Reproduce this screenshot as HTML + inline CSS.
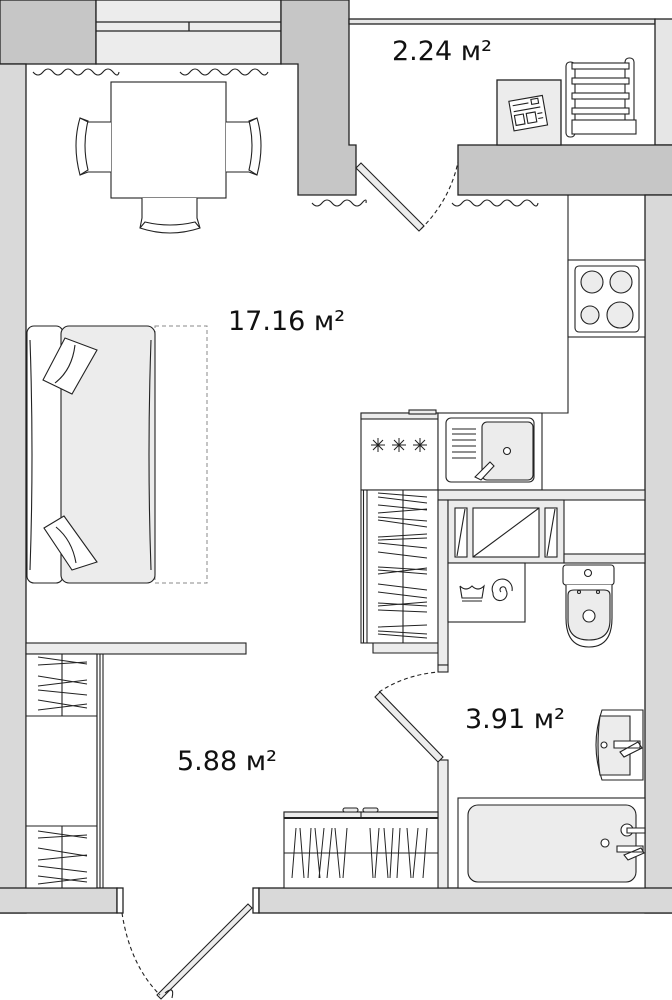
<!DOCTYPE html>
<html><head><meta charset="utf-8"><style>
html,body{margin:0;padding:0;background:#fff;}
svg{display:block}
text{font-family:"DejaVu Sans","Liberation Sans",sans-serif;fill:#111}
</style></head><body>
<svg width="672" height="1000" viewBox="0 0 672 1000" xmlns="http://www.w3.org/2000/svg">
<g stroke="#222" stroke-width="1.3">
<rect x="0" y="0" width="96" height="64" fill="#c6c6c6"/>
<rect x="96" y="0" width="185" height="64" fill="#ececec"/>
<line x1="96" y1="22" x2="281" y2="22"/><line x1="96" y1="31" x2="281" y2="31"/><line x1="189" y1="22" x2="189" y2="31"/>
<path d="M281,0 H349 V145 H356 V195 H298 V64 H281 Z" fill="#c6c6c6"/>
<rect x="349" y="19" width="306" height="5" fill="#e6e6e6"/>
<rect x="655" y="19" width="20" height="126" fill="#e6e6e6"/>
<rect x="458" y="145" width="216" height="50" fill="#c6c6c6"/>
<rect x="497" y="80" width="64" height="65" fill="#ececec"/>
<rect x="-2" y="64" width="28" height="849" fill="#d9d9d9"/>
<rect x="645" y="195" width="30" height="718" fill="#d9d9d9"/>
<rect x="-2" y="888" width="119" height="25" fill="#d9d9d9"/>
<rect x="117" y="888" width="6" height="25" fill="#fff"/>
<rect x="253" y="888" width="6" height="25" fill="#fff"/>
<rect x="259" y="888" width="416" height="25" fill="#d9d9d9"/>
</g>
<g fill="none" stroke="#222" stroke-width="1.1">
<path d="M33,72 q5,6 10,0 t10,0 t10,0 t10,0 t10,0 t10,0 t10,0 t10,0 t6,0"/>
<path d="M180,72 q5,6 10,0 t10,0 t10,0 t10,0 t10,0 t10,0 t10,0 t10,0 t8,0"/>
<path d="M312,203 q5,6 10,0 t10,0 t10,0 t10,0 t10,0 t4,0"/>
<path d="M452,203 q5,6 10,0 t10,0 t10,0 t10,0 t10,0 t10,0 t10,0 t10,0 t6,0"/>
</g>
<g stroke="#222" stroke-width="1.1">
<polygon points="356,168 361,163 424,226 419,231" fill="#ececec"/>
<path d="M421,229 Q450,200 458,162" fill="none" stroke-dasharray="4,3"/>
<rect x="111" y="82" width="115" height="116" fill="#fff"/>
<g fill="#fff">
<path d="M111,122 H88 L80,118 Q72,145 80,175 L88,172 H111"/>
<path d="M80,118 L88,121 Q82,145 88,170 L80,175" fill="none"/>
<path d="M226,122 H249 L257,118 Q265,145 257,175 L249,172 H226"/>
<path d="M257,118 L249,121 Q255,145 249,170 L257,175" fill="none"/>
<path d="M142,198 V218 L140,228 Q170,238 200,228 L197,218 V198"/>
<path d="M140,228 L145,222 Q170,228 195,222 L200,228" fill="none"/>
</g>
<g fill="#fff">
<rect x="566" y="62" width="9" height="75" rx="4"/>
<rect x="625" y="58" width="9" height="75" rx="4"/>
<rect x="572" y="63" width="57" height="6"/>
<rect x="572" y="78" width="57" height="6"/>
<rect x="572" y="93" width="57" height="6"/>
<rect x="572" y="108" width="57" height="6"/>
<rect x="572" y="120" width="64" height="14"/>
</g>
<g fill="#fff" transform="rotate(-10 529 112)">
<rect x="511" y="98" width="34" height="30"/>
<line x1="514" y1="103" x2="530" y2="103"/><rect x="533" y="100" width="7" height="5"/>
<line x1="514" y1="109" x2="541" y2="109"/><rect x="514" y="113" width="9" height="10"/><rect x="526" y="113" width="9" height="10"/>
<line x1="537" y1="115" x2="542" y2="115"/><line x1="537" y1="120" x2="542" y2="120"/>
</g>
<rect x="155" y="326" width="52" height="257" fill="none" stroke="#888" stroke-dasharray="4,3" stroke-width="1"/>
<rect x="27" y="326" width="36" height="257" rx="7" fill="#fff"/>
<rect x="61" y="326" width="94" height="257" rx="8" fill="#ececec"/>
<path d="M30,340 Q34,455 30,570 M151,340 Q147,455 151,570" fill="none"/>
<path d="M43,380 L65,338 L97,350 L72,394 Z" fill="#fff"/>
<path d="M55,383 Q72,370 75,345" fill="none"/>
<path d="M44,528 L64,516 L97,562 L72,570 Z" fill="#fff"/>
<path d="M56,527 Q72,540 76,563" fill="none"/>
<path d="M568,195 V413 H361" fill="none"/>
<rect x="568" y="260" width="77" height="77" fill="#fff"/>
<rect x="575" y="266" width="64" height="66" rx="4" fill="#fff"/>
<circle cx="592" cy="282" r="11" fill="#ececec"/><circle cx="621" cy="282" r="11" fill="#ececec"/>
<circle cx="590" cy="315" r="9" fill="#ececec"/><circle cx="620" cy="315" r="13" fill="#ececec"/>
<rect x="361" y="413" width="77" height="77" fill="#fff"/>
<rect x="361" y="413" width="77" height="6" fill="#ececec"/>
<rect x="409" y="410" width="27" height="4" fill="#ececec"/>
<path d="M371,445 H385 M378,438 V452 M373,440 L383,450 M383,440 L373,450 M392,445 H406 M399,438 V452 M394,440 L404,450 M404,440 L394,450 M413,445 H427 M420,438 V452 M415,440 L425,450 M425,440 L415,450" fill="none" stroke-width="1"/>
<rect x="438" y="413" width="104" height="77" fill="#fff"/>
<rect x="446" y="418" width="88" height="64" rx="5" fill="#fff"/>
<rect x="482" y="422" width="51" height="58" rx="5" fill="#ececec"/>
<path d="M452,429 H476 M452,434 H476 M452,440 H476 M452,446 H476 M452,452 H476 M452,458 H476" fill="none"/>
<circle cx="507" cy="451" r="3.5" fill="#fff"/>
<path d="M475,477 L490,462 L494,466 L481,480 Z" fill="#fff"/>
<rect x="438" y="490" width="207" height="10" fill="#ececec"/>
<rect x="361" y="490" width="77" height="153" fill="#fff"/>
<line x1="363.5" y1="490" x2="363.5" y2="643"/><line x1="367" y1="490" x2="367" y2="643"/>
<line x1="403" y1="490" x2="403" y2="643"/>
<path d="M378,493 L427,497 M378,497 L427,503 M378,505 L427,510 M378,513 L427,509 M378,517 L427,521 M378,520 L427,527 M378,537 L427,534 M378,540 L427,538 M378,543 L427,548 M378,552 L427,558 M378,567 L427,570 M378,570 L427,574 M378,574 L427,568 M378,584 L427,590 M378,592 L427,598 M378,603 L427,606 M378,606 L427,602 M378,610 L427,612 M378,627 L427,625 M378,631 L427,634 M378,634 L427,638" fill="none" stroke-width="1"/>
<path d="M373,643 H438 V653 H373 Z" fill="#ececec"/>
<rect x="438" y="500" width="10" height="165" fill="#ececec"/>
<rect x="438" y="665" width="10" height="7" fill="#ececec"/>
<rect x="438" y="760" width="10" height="128" fill="#ececec"/>
<rect x="448" y="500" width="116" height="63" fill="#ececec"/>
<rect x="455" y="508" width="12" height="49" fill="#fff"/><line x1="457" y1="556" x2="465" y2="509"/>
<rect x="473" y="508" width="66" height="49" fill="#fff"/><line x1="473" y1="557" x2="539" y2="508"/>
<rect x="545" y="508" width="12" height="49" fill="#fff"/><line x1="547" y1="556" x2="555" y2="509"/>
<rect x="564" y="554" width="81" height="9" fill="#ececec"/>
<rect x="448" y="563" width="77" height="59" fill="#fff"/>
<path d="M460,586 L462,598 H482 L484,586 Q478,592 472,586 Q466,592 460,586" fill="none"/>
<line x1="462" y1="601" x2="482" y2="601"/>
<path d="M501,592 a3,3 0 1 1 5,-2 a7,7 0 1 1 -13,3 a10,10 0 1 1 19,-2" fill="none"/>
<rect x="563" y="565" width="51" height="20" rx="3" fill="#fff"/>
<circle cx="588" cy="573" r="3.5" fill="#fff"/>
<path d="M566,585 V618 Q566,647 589,647 Q612,647 612,618 V585" fill="#fff"/>
<path d="M568,595 Q568,590 574,590 H604 Q610,590 610,595 V620 Q610,640 589,640 Q568,640 568,620 Z" fill="#ececec"/>
<circle cx="589" cy="616" r="6" fill="#fff"/>
<circle cx="579" cy="592" r="1.5" fill="#fff"/><circle cx="598" cy="592" r="1.5" fill="#fff"/>
<polygon points="375,697 380,692 443,757 438,762" fill="#ececec"/>
<path d="M379,692 Q405,675 438,672" fill="none" stroke-dasharray="4,3"/>
<path d="M602,710 H643 V780 H602 Q590,745 602,710 Z" fill="#fff"/>
<path d="M600,716 H630 V775 H600 Q596,745 600,716 Z" fill="#ececec"/>
<circle cx="604" cy="745" r="3" fill="#fff"/>
<path d="M614,741 H640 V748 H614 Z M620,752 L638,742 L642,748 L624,757 Z" fill="#fff"/>
<rect x="458" y="798" width="187" height="90" fill="#fff"/>
<rect x="468" y="805" width="168" height="77" rx="10" fill="#ececec"/>
<circle cx="627" cy="830" r="6" fill="#fff"/><path d="M627,828 H645 V833 H627 Z" fill="#fff"/>
<circle cx="605" cy="843" r="4" fill="#fff"/>
<path d="M617,846 H643 V852 H617 Z M624,855 L641,848 L644,853 L628,860 Z" fill="#fff"/>
<rect x="26" y="643" width="220" height="11" fill="#ececec"/>
<rect x="26" y="654" width="71" height="234" fill="#fff"/>
<line x1="26" y1="716" x2="97" y2="716"/><line x1="26" y1="826" x2="97" y2="826"/>
<line x1="97" y1="654" x2="97" y2="888"/><line x1="100" y1="654" x2="100" y2="888"/><line x1="103" y1="654" x2="103" y2="888"/>
<line x1="62" y1="654" x2="62" y2="716"/><line x1="62" y1="826" x2="62" y2="888"/>
<path d="M38,657 L87,664 M38,665 L87,662 M38,676 L87,684 M38,686 L87,680 M38,690 L87,695 M38,700 L87,708 M38,710 L87,704 M38,831 L87,838 M38,838 L87,835 M38,848 L87,856 M38,860 L87,855 M38,866 L87,872 M38,876 L87,882 M38,884 L87,878" fill="none" stroke-width="1"/>
<rect x="284" y="812" width="154" height="76" fill="#fff"/>
<rect x="284" y="812" width="154" height="6" fill="#ececec"/>
<line x1="284" y1="818" x2="438" y2="818" stroke-width="2"/>
<line x1="361" y1="812" x2="361" y2="818"/>
<rect x="343" y="808" width="15" height="4" rx="2" fill="#ececec"/><rect x="363" y="808" width="15" height="4" rx="2" fill="#ececec"/>
<line x1="284" y1="853" x2="438" y2="853"/>
<path d="M296,828 L292,878 M300,828 L304,878 M311,828 L308,878 M315,828 L320,878 M324,828 L319,878 M332,828 L327,878 M335,828 L340,878 M347,828 L343,878 M370,828 L373,878 M379,828 L375,878 M384,828 L388,878 M393,828 L390,878 M400,828 L397,878 M407,828 L411,878 M418,828 L413,878 M427,828 L423,878" fill="none" stroke-width="1"/>
<polygon points="157,995 161,999 252,908 248,904" fill="#ececec"/>
<path d="M122,913 Q130,965 160,995" fill="none" stroke-dasharray="4,3"/>
<path d="M165,993 Q175,985 172,998" fill="none"/>
</g>
<text x="228" y="330" font-size="27">17.16 м²</text>
<text x="392" y="60" font-size="27">2.24 м²</text>
<text x="465" y="728" font-size="27">3.91 м²</text>
<text x="177" y="770" font-size="27">5.88 м²</text>
</svg>
</body></html>
